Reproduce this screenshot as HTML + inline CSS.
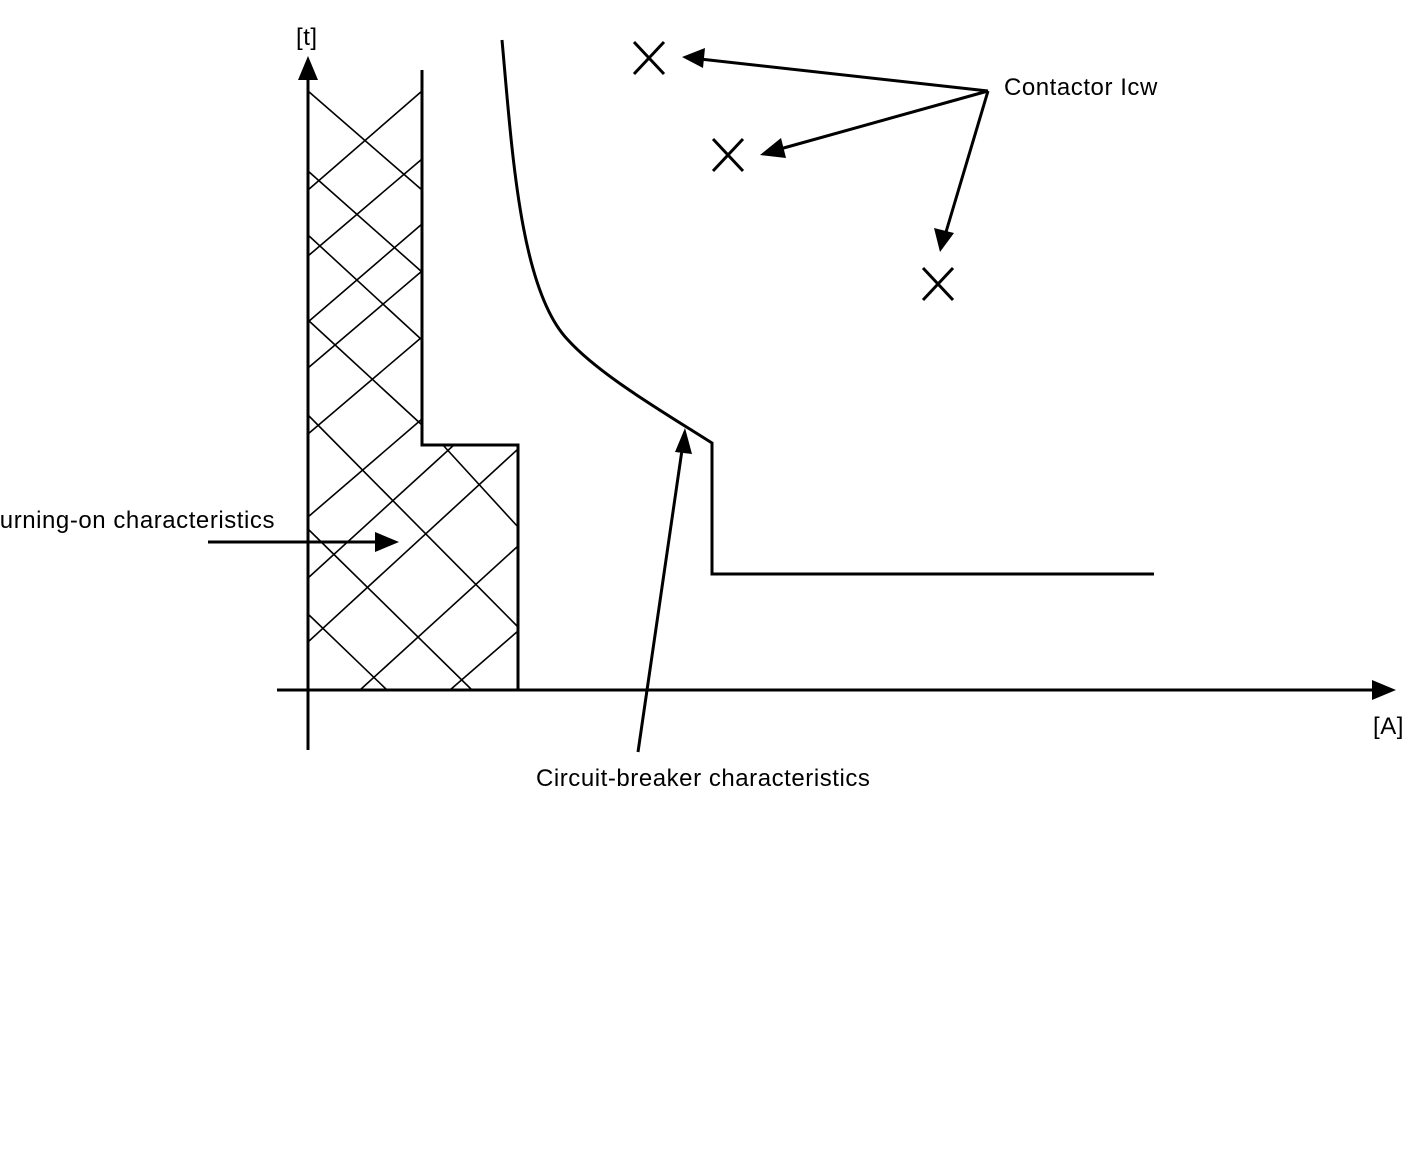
<!DOCTYPE html>
<html><head><meta charset="utf-8"><style>
html,body{margin:0;padding:0;background:#fff;}
svg{display:block;}
text{font-family:"Liberation Sans",sans-serif;font-size:24px;letter-spacing:0.55px;fill:#000;}
</style></head><body>
<svg width="1403" height="1153" viewBox="0 0 1403 1153" xmlns="http://www.w3.org/2000/svg">
<g stroke="#000" stroke-width="1.6" fill="none">
<line x1="308" y1="91" x2="422" y2="190"/>
<line x1="308" y1="171" x2="422" y2="272"/>
<line x1="308" y1="235" x2="422" y2="340"/>
<line x1="308" y1="320" x2="422" y2="425"/>
<line x1="308" y1="415" x2="518" y2="627"/>
<line x1="308" y1="529" x2="472" y2="690"/>
<line x1="308" y1="614" x2="387" y2="690"/>
<line x1="442" y1="444" x2="518" y2="527"/>
<line x1="308" y1="190" x2="422" y2="91"/>
<line x1="308" y1="256" x2="422" y2="159"/>
<line x1="308" y1="322" x2="422" y2="224"/>
<line x1="308" y1="368" x2="422" y2="271"/>
<line x1="308" y1="434" x2="422" y2="337"/>
<line x1="308" y1="517" x2="422" y2="419"/>
<line x1="308" y1="578" x2="455" y2="444"/>
<line x1="308" y1="642" x2="518" y2="449"/>
<line x1="360" y1="690" x2="518" y2="546"/>
<line x1="450" y1="690" x2="518" y2="631"/>
</g>
<g stroke="#000" stroke-width="3" fill="none">
<polyline points="422,70 422,445 518,445 518,690"/>
<line x1="308" y1="75" x2="308" y2="750"/>
<line x1="277" y1="690" x2="1375" y2="690"/>
<path d="M502,40 C512,150 520,290 568,340 C600,375 660,410 712,443 L712,574 L1154,574"/>
<line x1="208" y1="542" x2="380" y2="542"/>
<line x1="638" y1="752" x2="682" y2="450"/>
<line x1="988" y1="91" x2="700" y2="59"/>
<line x1="988" y1="91" x2="780" y2="149"/>
<line x1="988" y1="91" x2="946" y2="232"/>
</g>
<g stroke="#000" stroke-width="3">
<line x1="634" y1="42" x2="664" y2="74"/><line x1="664" y1="42" x2="634" y2="74"/>
<line x1="713" y1="139" x2="743" y2="171"/><line x1="743" y1="139" x2="713" y2="171"/>
<line x1="923" y1="268" x2="953" y2="300"/><line x1="953" y1="268" x2="923" y2="300"/>
</g>
<g fill="#000">
<polygon points="308,56 298,80 318,80"/>
<polygon points="1396,690 1372,680 1372,700"/>
<polygon points="399,542 375,532 375,552"/>
<polygon points="685,428 675,452 692,454"/>
<polygon points="682,57 705,48 703,68"/>
<polygon points="760,155 781,138 786,158"/>
<polygon points="940,252 934,228 954,233"/>
</g>
<text x="296" y="45">[t]</text>
<text x="1373" y="734">[A]</text>
<text x="1004" y="95">Contactor Icw</text>
<text x="536" y="786">Circuit-breaker characteristics</text>
<text x="275" y="528" text-anchor="end">Turning-on characteristics</text>
</svg>
</body></html>
